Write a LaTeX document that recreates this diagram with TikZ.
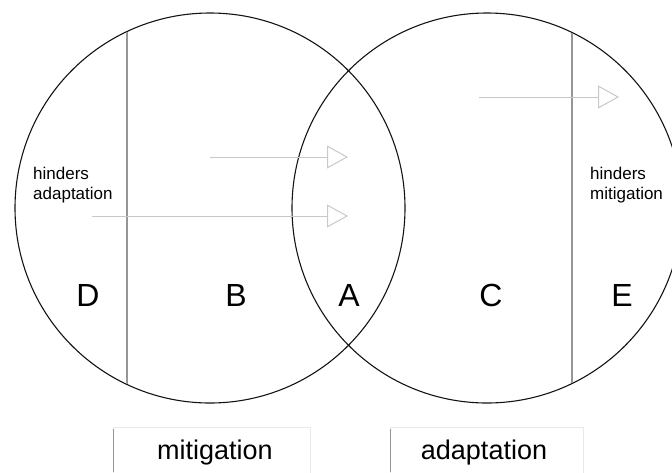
\documentclass[tikz,border=0pt]{standalone}
\usepackage{fontspec}
\setmainfont{Liberation Sans}
\usepackage{xcolor}
\definecolor{Col1}{RGB}{20,20,20}
\definecolor{Col2}{RGB}{150,150,150}
\definecolor{Col3}{RGB}{200,200,200}
\usepackage{tikz}
\usetikzlibrary{shapes}
\usetikzlibrary{arrows.meta}
\tikzstyle{Set}=[circle,draw=Col1,line width=1.1pt,minimum size=390pt,
inner sep=0pt]
\tikzstyle{Border}=[draw=Col2,line width=1.2pt]
\tikzstyle{Edge}=[draw=Col3,line width=1pt,
-{Triangle[open,length=21pt,width=23pt,line width=1pt]}]
\tikzstyle{NodeST}=[font=\fontsize{32}{38}\selectfont,inner sep=0pt]
\tikzstyle{NoteST}=[font=\fontsize{17}{20}\selectfont,align=left,
inner sep=0pt,anchor=west]
\tikzstyle{Box}=[draw=Col3!40,line width=.8pt]
\tikzstyle{BoxST}=[font=\fontsize{27}{32}\selectfont,inner sep=0pt]

\begin{document}
\begin{tikzpicture}[x=1pt,y=-1pt]
        \useasboundingbox(0,0)rectangle(672,472);
        \node[Set](M)at(210,208){};
        \node[Set](N)at(487,208){};
        \coordinate(d1)at(127,32);
        \coordinate(d2)at(127,384);
        \coordinate(e1)at(572,33);
        \coordinate(e2)at(572,383);
        \draw[Border](d1)--(d2);
        \draw[Border](e1)--(e2);
        \coordinate(a1)at(210,157);
        \coordinate(a2)at(348,157);
        \coordinate(b1)at(92,216);
        \coordinate(b2)at(348,216);
        \coordinate(c1)at(479,97);
        \coordinate(c2)at(619,97);
        \draw[Edge](a1)--(a2);
        \draw[Edge](b1)--(b2);
        \draw[Edge](c1)--(c2);
        \node[NoteST](h1)at(33,185){hinders\\adaptation};
        \node[NoteST](h2)at(590,185){hinders\\mitigation};
        \node[NodeST](D)at(88,295){D};
        \node[NodeST](B)at(236,295){B};
        \node[NodeST](A)at(349,295){A};
        \node[NodeST](C)at(491,295){C};
        \node[NodeST](E)at(622,295){E};
        \draw[Box](113,480)--(113,427)--(310,427)--(310,480);
        \draw[Box](390,480)--(390,427)--(583,427)--(583,480);
        \draw[Border,line width=1pt](113,429)--(113,472);
        \draw[Border,line width=1pt](390,429)--(390,472);
        \node[BoxST](mit)at(215,453){mitigation};
        \node[BoxST](ada)at(484,453){adaptation};
    \end{tikzpicture}
\end{document}
